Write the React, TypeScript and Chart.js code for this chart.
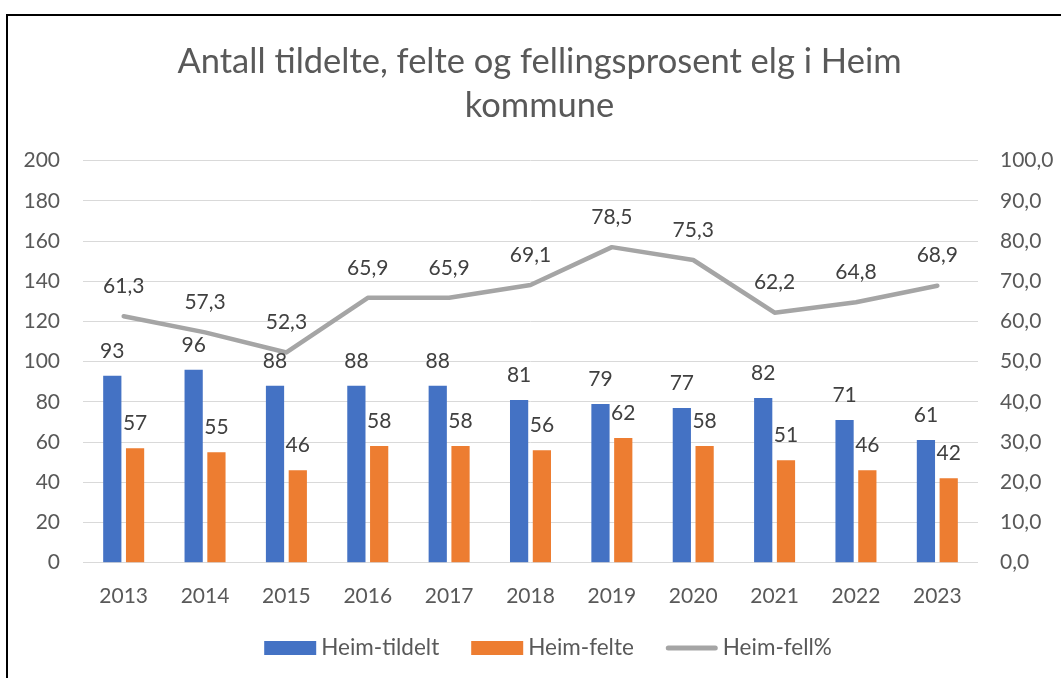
import React, { useEffect, useRef } from "react";
import { Chart, registerables } from "chart.js";

Chart.register(...registerables);

const categories = ["2013", "2014", "2015", "2016", "2017", "2018", "2019", "2020", "2021", "2022", "2023"];
const tildelt = [93, 96, 88, 88, 88, 81, 79, 77, 82, 71, 61];
const felte = [57, 55, 46, 58, 58, 56, 62, 58, 51, 46, 42];
const fellPct = [61.3, 57.3, 52.3, 65.9, 65.9, 69.1, 78.5, 75.3, 62.2, 64.8, 68.9];
const seriesNames = ["Heim-tildelt", "Heim-felte", "Heim-fell%"];
const titleLines = ["Antall tildelte, felte og fellingsprosent elg i Heim", "kommune"];

const FONT = "Lato";
const fmtPct = (v: number) => Number(v).toFixed(1).replace(".", ",");

const dataLabelPlugin = {
  id: "dataLabels",
  afterDatasetsDraw(chart: any) {
    const ctx = chart.ctx;
    ctx.save();
    ctx.font = `21px ${FONT}`;
    ctx.fillStyle = "#404040";
    ctx.textAlign = "center";
    ctx.textBaseline = "middle";
    chart.data.datasets.forEach((ds: any, i: number) => {
      const meta = chart.getDatasetMeta(i);
      const isLine = ds.type === "line";
      meta.data.forEach((el: any, j: number) => {
        const v = ds.data[j];
        const txt = isLine ? fmtPct(v) : String(v);
        const off = isLine ? 30 : 25;
        ctx.fillText(txt, el.x, el.y - off);
      });
    });
    ctx.restore();
  },
};

const legendPlugin = {
  id: "customLegend",
  afterDraw(chart: any) {
    const ctx = chart.ctx;
    ctx.save();
    ctx.font = `22.5px ${FONT}`;
    ctx.textBaseline = "middle";
    ctx.textAlign = "left";
    const symW = 52;
    const gapText = 5;
    const gapItem = 32;
    const centerX = 548;
    const y = 648;
    const items = chart.data.datasets.map((ds: any) => ({
      label: ds.label,
      isLine: ds.type === "line",
      color: ds.type === "line" ? ds.borderColor : ds.backgroundColor,
    }));
    const widths = items.map((it: any) => symW + gapText + ctx.measureText(it.label).width);
    const total = widths.reduce((a: number, b: number) => a + b, 0) + gapItem * (items.length - 1);
    let x = centerX - total / 2;
    items.forEach((it: any, i: number) => {
      if (it.isLine) {
        ctx.strokeStyle = it.color;
        ctx.lineWidth = 5;
        ctx.lineCap = "round";
        ctx.beginPath();
        ctx.moveTo(x + 2.5, y);
        ctx.lineTo(x + symW - 2.5, y);
        ctx.stroke();
      } else {
        ctx.fillStyle = it.color;
        ctx.fillRect(x, y - 7, symW, 14);
      }
      ctx.fillStyle = "#595959";
      ctx.fillText(it.label, x + symW + gapText, y);
      x += widths[i] + gapItem;
    });
    ctx.restore();
  },
};

export default function App() {
  const ref = useRef<HTMLCanvasElement | null>(null);

  useEffect(() => {
    if (!ref.current) return;
    Chart.defaults.font.family = FONT;
    const chart = new Chart(ref.current, {
      type: "bar",
      data: {
        labels: categories,
        datasets: [
          {
            type: "bar",
            label: seriesNames[0],
            data: tildelt,
            backgroundColor: "#4472C4",
            yAxisID: "y",
            order: 1,
            categoryPercentage: 0.56,
            barPercentage: 0.8,
          } as any,
          {
            type: "bar",
            label: seriesNames[1],
            data: felte,
            backgroundColor: "#ED7D31",
            yAxisID: "y",
            order: 2,
            categoryPercentage: 0.56,
            barPercentage: 0.8,
          } as any,
          {
            type: "line",
            label: seriesNames[2],
            data: fellPct,
            borderColor: "#A5A5A5",
            backgroundColor: "#A5A5A5",
            borderWidth: 4.5,
            pointRadius: 0,
            tension: 0,
            borderCapStyle: "round",
            borderJoinStyle: "round",
            yAxisID: "y1",
            order: 0,
          } as any,
        ],
      },
      options: {
        animation: false,
        responsive: false,
        maintainAspectRatio: false,
        layout: { padding: { left: 18, right: 0, top: 0, bottom: 0 } },
        plugins: {
          legend: { display: false },
          tooltip: { enabled: false },
          title: {
            display: true,
            text: titleLines,
            color: "#595959",
            font: { size: 34.5, family: FONT, weight: "normal", lineHeight: 44 / 34.5 },
            padding: { top: 40, bottom: 32.7 },
          },
        },
        scales: {
          x: {
            grid: { display: false, drawTicks: false },
            border: { display: false },
            ticks: { color: "#595959", font: { size: 21 }, padding: 21 },
            afterFit: (s: any) => {
              s.height = 115.3;
            },
          },
          y: {
            position: "left",
            min: 0,
            max: 200,
            ticks: { stepSize: 20, color: "#595959", font: { size: 21 }, padding: 23 },
            grid: { color: "#d9d9d9", lineWidth: 1, drawTicks: false },
            border: { display: false },
            afterFit: (s: any) => {
              s.width = 65;
            },
          },
          y1: {
            position: "right",
            min: 0,
            max: 100,
            ticks: {
              stepSize: 10,
              color: "#595959",
              font: { size: 21 },
              padding: 22,
              callback: (v: any) => fmtPct(v),
            },
            grid: { display: false, drawTicks: false },
            border: { display: false },
            afterFit: (s: any) => {
              s.width = 83;
            },
          },
        },
      } as any,
      plugins: [dataLabelPlugin, legendPlugin],
    });
    return () => chart.destroy();
  }, []);

  return (
    <div style={{ position: "absolute", left: 0, top: 0, width: 1061, height: 678, overflow: "hidden", background: "#fff" }}>
      <div
        style={{
          position: "absolute",
          left: 6,
          top: 14,
          width: 1055,
          height: 664,
          boxSizing: "border-box",
          borderLeft: "2px solid #000",
          borderTop: "2px solid #000",
        }}
      />
      <canvas ref={ref} width={1061} height={678} style={{ position: "absolute", left: 0, top: 0, display: "block" }} />
    </div>
  );
}
